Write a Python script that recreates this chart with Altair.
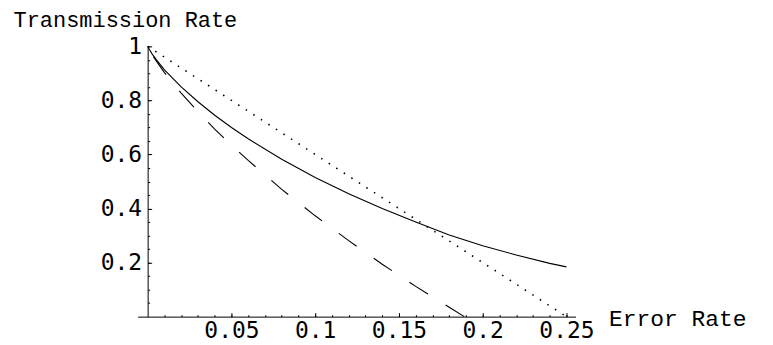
import altair as alt
import pandas as pd

p_solid = [0, 0.001, 0.0025, 0.005, 0.01, 0.02, 0.03, 0.04, 0.05, 0.06, 0.08,
           0.10, 0.12, 0.14, 0.16, 0.18, 0.20, 0.22, 0.24, 0.25]
r_solid = [1.0, 0.988, 0.973, 0.952, 0.913, 0.850, 0.795, 0.745, 0.700, 0.658, 0.582,
           0.515, 0.455, 0.400, 0.350, 0.302, 0.262, 0.228, 0.197, 0.184]

p_dashed = [0, 0.001, 0.0025, 0.005, 0.01, 0.02, 0.03, 0.04, 0.05, 0.06, 0.08,
            0.10, 0.12, 0.14, 0.16, 0.18, 0.189]
r_dashed = [1.0, 0.987, 0.971, 0.947, 0.903, 0.827, 0.758, 0.694, 0.634, 0.578, 0.471,
            0.373, 0.281, 0.194, 0.112, 0.035, 0.0]

p_dotted = [0, 0.125, 0.25]
r_dotted = [1.0, 0.5, 0.0]

x_major = [0.05, 0.1, 0.15, 0.2, 0.25]
x_minor = [i / 100 for i in range(1, 26)]
y_major = [0.2, 0.4, 0.6, 0.8, 1.0]
y_minor = [i / 20 for i in range(1, 21)]

solid = pd.DataFrame({"p": p_solid, "r": r_solid})
dashed = pd.DataFrame({"p": p_dashed, "r": r_dashed})
dotted = pd.DataFrame({"p": p_dotted, "r": r_dotted})

W, H = 439, 271
XDOM = [-0.006, 0.2554]
LABEL_FONT = "DejaVu Sans Mono"
TITLE_FONT = "Liberation Mono"

xs = alt.Scale(domain=XDOM, nice=False, zero=False)
ys = alt.Scale(domain=[0, 1], nice=False, zero=False)

common_axis = dict(grid=False, labelFlush=False, labelOverlap=False, labelBound=False,
                   domainColor="black", tickColor="black", labelColor="black",
                   domainWidth=1, tickWidth=1)

# Layer 1: labels + titles
x_lab = alt.Axis(orient="bottom", values=x_major, format="~g", ticks=False, tickSize=0,
                 domain=False, labelFont=LABEL_FONT, labelFontSize=23, labelPadding=3,
                 title="Error Rate", titleFont=TITLE_FONT, titleFontSize=23,
                 titleFontWeight="normal", titleColor="black", titleX=472, titleY=9,
                 titleAlign="left", titleBaseline="alphabetic", titleAngle=0,
                 **common_axis)
y_lab = alt.Axis(orient="left", offset=-10, values=y_major, format="~g", ticks=False,
                 tickSize=0, domain=False, labelFont=LABEL_FONT, labelFontSize=23,
                 labelPadding=6, title="Transmission Rate", titleFont=TITLE_FONT,
                 titleFontSize=22, titleFontWeight="normal", titleColor="black",
                 titleX=-135, titleY=-37, titleAlign="left", titleBaseline="top",
                 titleAngle=0, **common_axis)

# Layer 2: axis lines with major ticks (pointing inward)
x_maj = alt.Axis(orient="top", offset=-H, values=x_major, labels=False, ticks=True,
                 tickSize=4, domain=True, title=None, **common_axis)
y_maj = alt.Axis(orient="right", offset=-(W - 10), values=y_major, labels=False,
                 ticks=True, tickSize=4, domain=True, title=None, **common_axis)

# Layer 3: minor ticks
x_min = alt.Axis(orient="top", offset=-H, values=x_minor, labels=False, ticks=True,
                 tickSize=2, domain=False, title=None, **common_axis)
y_min = alt.Axis(orient="right", offset=-(W - 10), values=y_minor, labels=False,
                 ticks=True, tickSize=2, domain=False, title=None, **common_axis)

l_solid = alt.Chart(solid).mark_line(color="black", strokeWidth=1.1).encode(
    x=alt.X("p:Q", scale=xs, axis=x_lab),
    y=alt.Y("r:Q", scale=ys, axis=y_lab),
)
l_dashed = alt.Chart(dashed).mark_line(color="black", strokeWidth=1.1,
                                        strokeDash=[22, 21]).encode(
    x=alt.X("p:Q", scale=xs, axis=x_maj),
    y=alt.Y("r:Q", scale=ys, axis=y_maj),
    order=alt.Order("p:Q", sort="descending"),
)
l_dotted = alt.Chart(dotted).mark_line(color="black", strokeWidth=1.6,
                                        strokeDash=[1.5, 7.5]).encode(
    x=alt.X("p:Q", scale=xs, axis=x_min),
    y=alt.Y("r:Q", scale=ys, axis=y_min),
)

chart = (
    alt.layer(l_solid, l_dashed, l_dotted)
    .resolve_axis(x="independent", y="independent")
    .properties(
        width=W, height=H,
        padding={"left": 130, "top": 38, "right": 190, "bottom": 28},
        autosize=alt.AutoSizeParams(type="none"),
        background="white",
    )
    .configure_view(stroke=None)
)

chart.save("out.html", embed_options={"renderer": "svg", "actions": False})
